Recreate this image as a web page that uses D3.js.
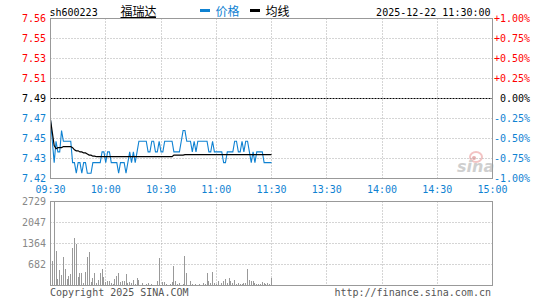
<!DOCTYPE html>
<html><head><meta charset="utf-8">
<script src="https://cdn.jsdelivr.net/npm/d3@7"></script>
<style>
body{margin:0;background:#fff}
svg{display:block}
text{font-family:"DejaVu Sans Mono",monospace;font-size:10px}
</style>
</head><body>
<svg id="c" width="545" height="300"></svg>
<script>
const symbol = "sh600223";
const stockName = "福瑞达";
const legendNames = ["价格", "均线"];
const stamp = "2025-12-22 11:30:00";
const prevClose = 7.49;
const timeLabels = ["09:30","10:00","10:30","11:00","11:30","13:30","14:00","14:30","15:00"];
const timeMinutes = [0,30,60,90,120,150,180,210,240];
const priceLabels = ["7.56","7.55","7.53","7.51","7.49","7.47","7.45","7.43","7.42"];
const pctLabels = ["+1.00%","+0.75%","+0.50%","+0.25%","0.00%","-0.25%","-0.50%","-0.75%","-1.00%"];
const pctLevels = [1,0.75,0.5,0.25,0,-0.25,-0.5,-0.75,-1];
const volLabels = ["2729","2047","1364","682"];
const volLevels = [2729,2047,1364,682];
const volMax = 2729;

// minute prices 09:30 .. 11:30
const price = [
7.47,7.45,7.43,7.45,7.44,7.44,7.46,7.45,7.45,7.45,
7.45,7.45,7.43,7.43,7.42,7.43,7.43,7.42,7.43,7.43,
7.42,7.42,7.42,7.43,7.43,7.43,7.43,7.43,7.44,7.44,
7.43,7.44,7.44,7.43,7.43,7.43,7.43,7.42,7.43,7.43,
7.43,7.42,7.43,7.44,7.43,7.44,7.43,7.44,7.45,7.45,
7.45,7.45,7.45,7.44,7.44,7.45,7.45,7.44,7.44,7.45,
7.44,7.44,7.45,7.45,7.45,7.45,7.45,7.44,7.44,7.44,
7.44,7.45,7.46,7.46,7.45,7.45,7.45,7.44,7.45,7.44,
7.45,7.45,7.45,7.45,7.45,7.45,7.44,7.44,7.45,7.44,
7.44,7.44,7.44,7.44,7.43,7.43,7.44,7.44,7.44,7.44,
7.45,7.45,7.44,7.44,7.45,7.44,7.45,7.45,7.44,7.43,
7.44,7.43,7.44,7.44,7.44,7.44,7.43,7.43,7.43,7.43,
7.43
];
const avgPrice = [
7.470,7.458,7.446,7.443,7.444,7.444,7.444,7.445,7.445,7.445,
7.445,7.445,7.444,7.442,7.441,7.441,7.440,7.440,7.439,7.439,
7.438,7.437,7.437,7.436,7.436,7.4355,7.4355,7.4355,7.4355,7.4355,
7.4355,7.4355,7.4355,7.4355,7.4355,7.4355,7.4355,7.4355,7.4355,7.4355,
7.4355,7.4355,7.4355,7.4355,7.4355,7.4355,7.4355,7.4355,7.4355,7.4355,
7.4355,7.4355,7.4355,7.4355,7.4355,7.4355,7.4355,7.4355,7.4355,7.4355,
7.4355,7.4355,7.4355,7.4355,7.4355,7.4355,7.4355,7.437,7.437,7.437,
7.437,7.437,7.437,7.4375,7.4375,7.4375,7.4375,7.4375,7.4375,7.4375,
7.4375,7.4375,7.4375,7.4375,7.4375,7.4375,7.4375,7.4375,7.4375,7.4375,
7.4375,7.4375,7.4375,7.4375,7.4375,7.4375,7.4375,7.4375,7.4375,7.4375,
7.4375,7.4375,7.4375,7.4375,7.4375,7.4375,7.4375,7.4375,7.4375,7.4375,
7.4375,7.4375,7.4375,7.4375,7.4375,7.4375,7.4375,7.4375,7.4375,7.4375,
7.4375
];
const volume = [
627,790,2716,1115,205,497,335,930,530,205,
313,367,1222,1547,1363,260,422,410,85,443,
930,1093,118,248,422,85,172,410,530,280,
118,150,150,85,52,205,313,422,118,140,
140,367,97,118,85,172,52,248,172,32,
97,32,42,65,32,52,32,32,140,897,
32,108,118,42,32,42,118,627,140,42,
97,32,52,951,400,32,140,52,32,42,
32,42,32,85,42,400,140,97,433,85,
42,140,32,85,150,205,85,248,140,85,
172,42,97,42,42,85,65,530,172,150,
140,97,42,52,42,118,85,52,97,42,
248
];

const BLUE = "#0f82d2", RED = "#ff0000", GRID = "#aaaaaa", FRAME = "#999999";
const svg = d3.select("#c");
svg.append("rect").attr("width",545).attr("height",300).attr("fill","#fff");

const x = d3.scaleLinear().domain([0,240]).range([50.5,492.5]);
const yPct = d3.scaleLinear().domain([-1,1]).range([178.5,18.5]);
const yPrice = d3.scaleLinear().domain([prevClose*0.99, prevClose*1.01]).range([178.5,18.5]);
const yVol = d3.scaleLinear().domain([0,volMax]).range([285.5,201.5]);
const gx = m => Math.floor(x(m)) + 0.5;

// watermark
const wm = svg.append("g");
wm.append("ellipse").attr("cx",476).attr("cy",157).attr("rx",6).attr("ry",5)
  .attr("fill","none").attr("stroke","#f3c4c4").attr("stroke-width",2);
wm.append("circle").attr("cx",474).attr("cy",158).attr("r",2).attr("fill","#e8b0b0");
wm.append("text").attr("x",457).attr("y",172).text("sina")
  .style("font-family","DejaVu Sans").style("font-size","16px").style("font-style","italic")
  .style("font-weight","bold").attr("fill","#cfcfcf");

// grid price panel
const inner = timeMinutes.slice(1,-1);
svg.append("g").selectAll("line").data(inner).join("line")
  .attr("x1",gx).attr("x2",gx).attr("y1",18.5).attr("y2",178.5)
  .attr("stroke",GRID).attr("stroke-dasharray","1,2");
svg.append("g").selectAll("line").data(pctLevels.filter(p=>Math.abs(p)!==1)).join("line")
  .attr("x1",50.5).attr("x2",492.5).attr("y1",d=>Math.round(yPct(d)-0.5)+0.5).attr("y2",d=>Math.round(yPct(d)-0.5)+0.5)
  .attr("stroke",d=>d===0?"#000":GRID).attr("stroke-dasharray",d=>d===0?"2,1":"1,2");

// grid volume panel
svg.append("g").selectAll("line").data(inner).join("line")
  .attr("x1",gx).attr("x2",gx).attr("y1",201.5).attr("y2",285.5)
  .attr("stroke",GRID).attr("stroke-dasharray","1,2");
svg.append("g").selectAll("line").data(volLevels.slice(1)).join("line")
  .attr("x1",50.5).attr("x2",492.5).attr("y1",d=>Math.round(yVol(d)-0.5)+0.5).attr("y2",d=>Math.round(yVol(d)-0.5)+0.5)
  .attr("stroke",GRID).attr("stroke-dasharray","1,2");

// volume bars
svg.append("g").selectAll("rect").data(volume).join("rect")
  .attr("x",(d,i)=>Math.floor(x(i))).attr("width",1)
  .attr("y",d=>Math.round(yVol(d))).attr("height",d=>285-Math.round(yVol(d)))
  .attr("fill","#999");

// lines
const line = d3.line().x((d,i)=>x(i)).y(d=>yPrice(d));
svg.append("path").datum(price).attr("d",line).attr("fill","none").attr("stroke",BLUE).attr("stroke-width",1.1);
svg.append("path").datum(avgPrice).attr("d",line).attr("fill","none").attr("stroke","#000").attr("stroke-width",1.2);

// frames
svg.append("rect").attr("x",50.5).attr("y",18.5).attr("width",442).attr("height",160).attr("fill","none").attr("stroke",FRAME);
svg.append("rect").attr("x",50.5).attr("y",201.5).attr("width",442).attr("height",84).attr("fill","none").attr("stroke",FRAME);

// left price labels
svg.append("g").selectAll("text").data(priceLabels).join("text")
  .attr("x",46).attr("y",(d,i)=>yPct(pctLevels[i])+3.5).attr("text-anchor","end")
  .attr("fill",(d,i)=>pctLevels[i]>0?RED:pctLevels[i]<0?BLUE:"#000").text(d=>d);
// right pct labels
svg.append("g").selectAll("text").data(pctLabels).join("text")
  .attr("x",530).attr("y",(d,i)=>yPct(pctLevels[i])+3.5).attr("text-anchor","end")
  .attr("fill",(d,i)=>pctLevels[i]>0?RED:pctLevels[i]<0?BLUE:"#000").text(d=>d);
// time labels
svg.append("g").selectAll("text").data(timeLabels).join("text")
  .attr("x",(d,i)=>x(timeMinutes[i])).attr("y",192.5).attr("text-anchor","middle")
  .attr("fill",BLUE).text(d=>d);
// volume labels
svg.append("g").selectAll("text").data(volLabels).join("text")
  .attr("x",46).attr("y",(d,i)=>yVol(volLevels[i])+3.5).attr("text-anchor","end")
  .attr("fill","#888").text(d=>d);

// header
svg.append("text").attr("x",49.5).attr("y",15.5).attr("fill","#000").text(symbol);
svg.append("text").attr("x",120.5).attr("y",16).attr("fill","#000").text(stockName)
  .style("font-family","'Noto Sans CJK SC'").style("font-size","12px");
svg.append("line").attr("x1",120.5).attr("x2",156).attr("y1",17.5).attr("y2",17.5).attr("stroke","#000");
svg.append("rect").attr("x",200).attr("y",9).attr("width",10).attr("height",3).attr("fill",BLUE);
svg.append("text").attr("x",215.5).attr("y",16).attr("fill",BLUE).text(legendNames[0])
  .style("font-family","'Noto Sans CJK SC'").style("font-size","12px");
svg.append("rect").attr("x",250).attr("y",9).attr("width",10).attr("height",3).attr("fill","#000");
svg.append("text").attr("x",265.5).attr("y",16).attr("fill","#000").text(legendNames[1])
  .style("font-family","'Noto Sans CJK SC'").style("font-size","12px");
svg.append("text").attr("x",490.5).attr("y",15.5).attr("text-anchor","end").attr("fill","#000").text(stamp);

// footer
svg.append("text").attr("x",50).attr("y",296).attr("fill","#555").text("Copyright 2025 SINA.COM");
svg.append("text").attr("x",491).attr("y",296).attr("text-anchor","end").attr("fill","#555").text("http://finance.sina.com.cn");
</script>
</body></html>
